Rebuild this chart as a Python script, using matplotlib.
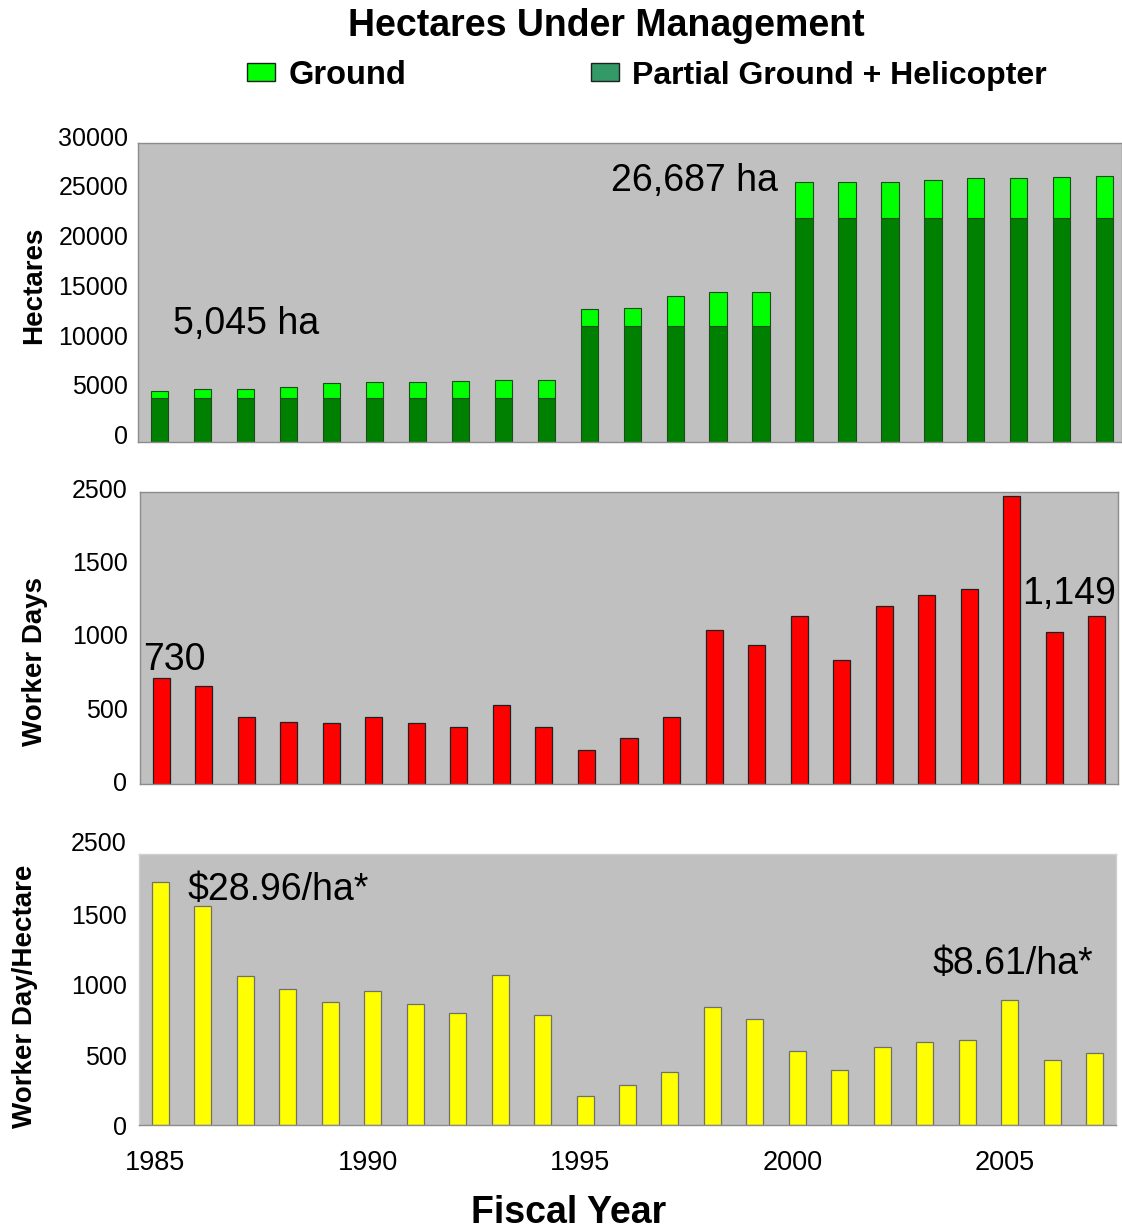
import numpy as np
import matplotlib
matplotlib.use("Agg")
import matplotlib.pyplot as plt
from matplotlib.patches import Rectangle
from matplotlib.transforms import ScaledTranslation

plt.rcParams['font.family'] = ['Liberation Sans', 'DejaVu Sans']

# ---- data ----
years = list(range(1985, 2008))
partial_heli = [4420, 4420, 4420, 4420, 4420, 4420, 4420, 4420, 4420, 4420,
                11620, 11620, 11620, 11620, 11620,
                22470, 22470, 22470, 22470, 22470, 22470, 22470, 22470]
ground = [625, 870, 870, 1040, 1480, 1540, 1540, 1640, 1780, 1780,
          1740, 1840, 3010, 3380, 3450,
          3580, 3640, 3640, 3840, 3980, 4040, 4140, 4217]
worker_days = [730, 675, 459, 429, 422, 463, 418, 392, 543, 392,
               233, 315, 463, 1055, 954, 1148, 849, 1216, 1292, 1336,
               1973, 1041, 1149]
wd_per_ha = [1729, 1561, 1063, 970, 875, 956, 861, 797, 1072, 785,
             211, 285, 382, 844, 757, 531, 394, 557, 591, 605,
             890, 467, 515]
year_ticks = [1985, 1990, 1995, 2000, 2005]
wd_ticks = [0, 500, 1000, 1500, 2000]
wd_tick_labels = ['0', '500', '1000', '1500', '2500']
ha_ticks = [0, 5000, 10000, 15000, 20000, 25000, 30000]

W, H = 1122, 1232
fig = plt.figure(figsize=(W / 100, H / 100), dpi=100)


def px(x):
    return x / W


def py(y):
    return 1 - y / H


def add_ax(left, right, top, bottom):
    ax = fig.add_axes([px(left), py(bottom), (right - left) / W, (bottom - top) / H])
    ax.set_facecolor('#c0c0c0')
    for s in ax.spines.values():
        s.set_color('#8c8c8c')
        s.set_linewidth(1.0)
    ax.tick_params(length=0, labelsize=18)
    return ax


def shift_labels(labels, dx, dy):
    off = ScaledTranslation(dx / 100, dy / 100, fig.dpi_scale_trans)
    for lab in labels:
        lab.set_transform(lab.get_transform() + off)


bw = 0.4

# ---- top: hectares ----
ax1 = add_ax(138, 1122, 143, 441.7)
ax1.bar(years, partial_heli, width=bw, color='#008000', edgecolor='#1a4d1a', linewidth=0.8)
ax1.bar(years, ground, bottom=partial_heli, width=bw, color='#00ff00',
        edgecolor='#1a4d1a', linewidth=0.8)
ax1.set_xlim(1984.5, 2007.4)
ax1.set_ylim(0, 30000)
ax1.set_yticks(ha_ticks)
ax1.set_xticks([])
ax1.tick_params(axis='y', pad=7)
shift_labels(ax1.get_yticklabels(), 0, 7)

# ---- middle: worker days ----
ax2 = add_ax(140, 1118, 491.7, 784.3)
ax2.bar(years, worker_days, width=bw, color='#ff0000', edgecolor='#202020', linewidth=0.9)
ax2.set_xlim(1984.5, 2007.5)
ax2.set_ylim(0, 2000)
ax2.set_yticks(wd_ticks)
ax2.set_yticklabels(wd_tick_labels)
ax2.set_xticks([])
ax2.tick_params(axis='y', pad=9)
shift_labels(ax2.get_yticklabels(), 0, 3)

# ---- bottom: worker day / hectare ----
ax3 = add_ax(139, 1116, 854, 1125.3)
ax3.bar(years, wd_per_ha, width=bw, color='#ffff00', edgecolor='#707070', linewidth=0.9)
ax3.set_xlim(1984.5, 2007.5)
ax3.set_ylim(0, 1931)
ax3.set_yticks(wd_ticks[:4])
ax3.set_yticklabels(wd_tick_labels[:4])
ax3.set_xticks(year_ticks)
ax3.tick_params(axis='y', pad=8.5)
ax3.tick_params(axis='x', pad=18, labelsize=19.5)
shift_labels(ax3.get_xticklabels(), -5, 0)
for s in ax3.spines.values():
    s.set_color('#d0d0d0')
ax3.spines['bottom'].set_color('#8c8c8c')
fig.text(px(127), py(844), wd_tick_labels[4], ha='right', va='center', fontsize=18)

# ---- titles, legend, axis labels ----
fig.text(px(606), py(26), 'Hectares Under Management', ha='center', va='center',
         fontsize=27, fontweight='bold')
fig.patches.append(Rectangle((px(247), py(81)), 28 / W, 18 / H, transform=fig.transFigure,
                             facecolor='#00ff00', edgecolor='#202020', linewidth=1))
fig.text(px(289), py(76), 'Ground', ha='left', va='center', fontsize=23.5, fontweight='bold')
fig.patches.append(Rectangle((px(591), py(81)), 28 / W, 18 / H, transform=fig.transFigure,
                             facecolor='#339966', edgecolor='#202020', linewidth=1))
fig.text(px(632), py(76), 'Partial Ground + Helicopter', ha='left', va='center',
         fontsize=23, fontweight='bold')

fig.text(px(34), py(285), 'Hectares', rotation=90, ha='center', va='center',
         fontsize=20, fontweight='bold')
fig.text(px(35), py(662), 'Worker Days', rotation=90, ha='center', va='center',
         fontsize=20, fontweight='bold')
fig.text(px(25), py(996), 'Worker Day/Hectare', rotation=90, ha='center', va='center',
         fontsize=20, fontweight='bold')
fig.text(px(569), py(1213), 'Fiscal Year', ha='center', va='center',
         fontsize=27, fontweight='bold')

# ---- annotations ----
fig.text(px(173), py(334), '5,045 ha', ha='left', va='baseline', fontsize=27)
fig.text(px(611), py(190.7), '26,687 ha', ha='left', va='baseline', fontsize=27)
fig.text(px(143), py(670), '730', ha='left', va='baseline', fontsize=27)
fig.text(px(1022), py(604), '1,149', ha='left', va='baseline', fontsize=27)
fig.text(px(188), py(900), '$28.96/ha*', ha='left', va='baseline', fontsize=27)
fig.text(px(933), py(974), '$8.61/ha*', ha='left', va='baseline', fontsize=27)

fig.savefig('out.png', dpi=100, facecolor='white')
